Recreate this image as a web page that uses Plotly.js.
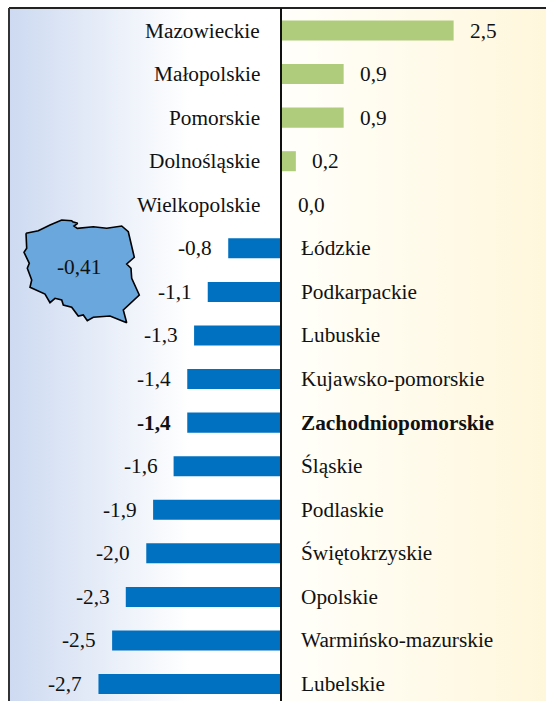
<!DOCTYPE html>
<html>
<head>
<meta charset="utf-8">
<script src="https://cdn.plot.ly/plotly-3.0.1.min.js"></script>
<style>
html,body{margin:0;padding:0;background:#fff;width:546px;height:701px;overflow:hidden}
#bgL{position:absolute;left:10px;top:9px;width:271px;height:692px;background:linear-gradient(90deg,#cddaf1 0,#ffffff 66%)}
#bgR{position:absolute;left:281px;top:9px;width:265px;height:692px;background:linear-gradient(90deg,#fffffb 0,#fff7dc 100%)}
#chart{position:absolute;left:0;top:0;width:546px;height:701px}
</style>
</head>
<body>
<div id="bgL"></div><div id="bgR"></div>
<div id="chart"></div>
<script>
const regions = ["Mazowieckie","Małopolskie","Pomorskie","Dolnośląskie","Wielkopolskie","Łódzkie","Podkarpackie","Lubuskie","Kujawsko-pomorskie","Zachodniopomorskie","Śląskie","Podlaskie","Świętokrzyskie","Opolskie","Warmińsko-mazurskie","Lubelskie"];
const values = [2.52,0.91,0.91,0.21,0,-0.78,-1.08,-1.28,-1.38,-1.38,-1.58,-1.88,-1.98,-2.28,-2.48,-2.68];
const valueLabels = ["2,5","0,9","0,9","0,2","0,0","-0,8","-1,1","-1,3","-1,4","-1,4","-1,6","-1,9","-2,0","-2,3","-2,5","-2,7"];
const highlighted = "Zachodniopomorskie";
const nationalLabel = "-0,41";
const mapX = [26,38.3,50,61.7,71.7,72.7,77.7,74,77.3,93.3,106.7,121.7,128.3,134.3,126.7,131,131.7,139.3,123.3,126.7,110,93.3,87.3,83.3,78.3,71.7,63.3,61.7,55,50,45,33.3,30,31.7,27.3,29.3,24,26.7,26];
const mapY = [233.3,230.7,225,220,220.7,221.7,223.3,226,228.3,226.7,228.3,226,231.7,257.3,264,268.3,278.3,295,310,322.7,316,317.3,320.7,315,316,307.3,305,300,298.3,302.7,294,289.3,287.3,280,268.3,263.3,252.3,248.3,233.3];

const serif = '"Liberation Serif","Times New Roman",serif';
const size = 21.3;
const annotations = [];
regions.forEach((r,i)=>{
  const v = values[i], pos = v >= 0, bold = r === highlighted;
  const f = {family:serif,size:size,color:"#111"};
  annotations.push({x:0,y:r,xref:"x",yref:"y",text:bold?"<b>"+r+"</b>":r,showarrow:false,font:f,
    xanchor:pos?"right":"left",xshift:pos?-20:17,align:pos?"right":"left"});
  annotations.push({x:v,y:r,xref:"x",yref:"y",text:bold?"<b>"+valueLabels[i]+"</b>":valueLabels[i],showarrow:false,font:f,
    xanchor:pos?"left":"right",xshift:pos?14:-14,align:pos?"left":"right"});
});
annotations.push({x:79,y:267,xref:"x2",yref:"y2",text:nationalLabel,showarrow:false,font:{family:serif,size:size,color:"#111"}});

const traces = [
 {type:"bar",orientation:"h",y:regions,x:values,width:0.46,
  marker:{color:values.map(v=>v>=0?"#afcb7c":"#0070c0")},hoverinfo:"skip"},
 {type:"scatter",mode:"lines",x:mapX,y:mapY,xaxis:"x2",yaxis:"y2",fill:"toself",fillcolor:"#69a7dc",
  line:{color:"#000",width:1.6},hoverinfo:"skip"}
];
const layout = {
 width:546,height:701,margin:{l:0,r:0,t:0,b:0,pad:0},showlegend:false,
 paper_bgcolor:"rgba(0,0,0,0)",plot_bgcolor:"rgba(0,0,0,0)",
 xaxis:{range:[-281.5/68.3,264.5/68.3],visible:false,fixedrange:true},
 yaxis:{type:"category",categoryorder:"array",categoryarray:regions,range:[15.389,-0.7],visible:false,fixedrange:true},
 xaxis2:{range:[0,546],overlaying:"x",anchor:"y2",visible:false,fixedrange:true},
 yaxis2:{range:[701,0],overlaying:"y",anchor:"x2",visible:false,fixedrange:true},
 shapes:[
  {type:"line",xref:"x2",yref:"y2",x0:9,x1:546,y0:8,y1:8,line:{color:"#222",width:2}},
  {type:"line",xref:"x2",yref:"y2",x0:9,x1:9,y0:8,y1:701,line:{color:"#333",width:2}},
  {type:"line",xref:"x2",yref:"y2",x0:281,x1:281,y0:8,y1:701,line:{color:"#111",width:2}}
 ],
 annotations:annotations
};
Plotly.newPlot("chart",traces,layout,{displayModeBar:false,staticPlot:true});
</script>
</body>
</html>
